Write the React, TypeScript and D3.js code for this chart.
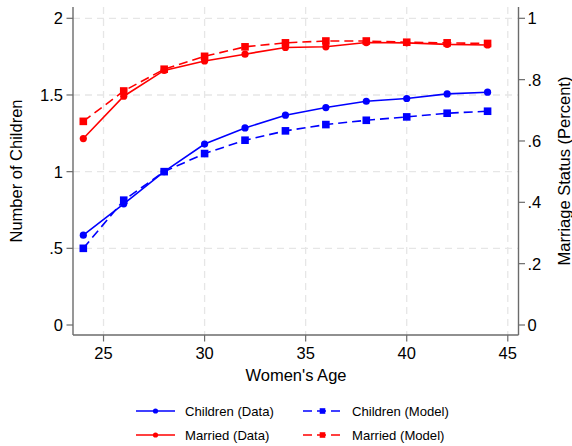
import React from "react";
import * as d3 from "d3";

const ages = [24, 26, 28, 30, 32, 34, 36, 38, 40, 42, 44];
const childrenData = [0.586, 0.79, 1.0, 1.18, 1.285, 1.368, 1.418, 1.459, 1.477, 1.507, 1.518];
const childrenModel = [0.5, 0.814, 1.0, 1.118, 1.205, 1.266, 1.307, 1.335, 1.357, 1.381, 1.394];
const marriedData = [0.608, 0.746, 0.83, 0.861, 0.883, 0.905, 0.907, 0.921, 0.92, 0.915, 0.913];
const marriedModel = [0.664, 0.763, 0.834, 0.876, 0.907, 0.92, 0.926, 0.926, 0.922, 0.92, 0.918];

const xTicks = [25, 30, 35, 40, 45];
const leftTicks = [0, 0.5, 1, 1.5, 2];
const rightTicks = [0, 0.2, 0.4, 0.6, 0.8, 1];
const fmt = (v: number) => (v === 0 ? "0" : String(v).replace(/^0\./, "."));

const W = 572;
const H = 446;
const L = 73, R = 518.5, T = 7, B = 335;
const BLUE = "#0000ff";
const RED = "#ff0000";
const AXIS = "#6b6b6b";
const GRID = "#e6e6e6";
const FONT = "'Liberation Sans', Arial, Helvetica, sans-serif";

export default function App() {
  const x = d3.scaleLinear().domain([23.49, 45.53]).range([L, R]);
  const yL = d3.scaleLinear().domain([0, 2]).range([325, 18.3]);
  const yR = d3.scaleLinear().domain([0, 1]).range([325, 18.3]);

  const lineL = d3.line<number>().x((_, i) => x(ages[i])).y((d) => yL(d));
  const lineR = d3.line<number>().x((_, i) => x(ages[i])).y((d) => yR(d));

  const series = [
    { vals: childrenData, line: lineL, y: yL, color: BLUE, dash: undefined, marker: "circle" },
    { vals: childrenModel, line: lineL, y: yL, color: BLUE, dash: "9,5", marker: "square" },
    { vals: marriedData, line: lineR, y: yR, color: RED, dash: undefined, marker: "circle" },
    { vals: marriedModel, line: lineR, y: yR, color: RED, dash: "9,5", marker: "square" },
  ];

  const legend = [
    { label: "Children (Data)", color: BLUE, dash: undefined, marker: "circle", lx: 136, ly: 411 },
    { label: "Children (Model)", color: BLUE, dash: "9,5", marker: "square", lx: 303, ly: 411 },
    { label: "Married (Data)", color: RED, dash: undefined, marker: "circle", lx: 136, ly: 435 },
    { label: "Married (Model)", color: RED, dash: "9,5", marker: "square", lx: 303, ly: 435 },
  ];

  return (
    <svg width={W} height={H} style={{ position: "absolute", left: 0, top: 0, background: "#fff" }} fontFamily={FONT}>
      <rect x={0} y={0} width={W} height={H} fill="#fff" />
      {/* grid */}
      {xTicks.map((t) => (
        <line key={"gx" + t} x1={x(t)} x2={x(t)} y1={T} y2={B} stroke={GRID} strokeWidth={1.3} strokeDasharray="7,5" />
      ))}
      {leftTicks.filter((t) => t > 0).map((t) => (
        <line key={"gy" + t} x1={L} x2={R} y1={yL(t)} y2={yL(t)} stroke={GRID} strokeWidth={1.3} strokeDasharray="7,5" />
      ))}
      {/* axes */}
      <line x1={L} x2={L} y1={T} y2={B} stroke={AXIS} strokeWidth={1.4} />
      <line x1={R} x2={R} y1={T} y2={B} stroke={AXIS} strokeWidth={1.4} />
      <line x1={L} x2={R} y1={B} y2={B} stroke={AXIS} strokeWidth={1.4} />
      {leftTicks.map((t) => (
        <g key={"lt" + t}>
          <line x1={L - 6.5} x2={L} y1={yL(t)} y2={yL(t)} stroke={AXIS} strokeWidth={1.2} />
          <text x={L - 10} y={yL(t)} dy="0.36em" textAnchor="end" fontSize={16.5} fill="#000">{fmt(t)}</text>
        </g>
      ))}
      {rightTicks.map((t) => (
        <g key={"rt" + t}>
          <line x1={R} x2={R + 6.5} y1={yR(t)} y2={yR(t)} stroke={AXIS} strokeWidth={1.2} />
          <text x={R + 9} y={yR(t)} dy="0.36em" textAnchor="start" fontSize={16.5} fill="#000">{fmt(t)}</text>
        </g>
      ))}
      {xTicks.map((t) => (
        <g key={"xt" + t}>
          <line x1={x(t)} x2={x(t)} y1={B} y2={B + 6.5} stroke={AXIS} strokeWidth={1.2} />
          <text x={x(t)} y={359} textAnchor="middle" fontSize={16.5} fill="#000">{t}</text>
        </g>
      ))}
      <text x={296} y={381} textAnchor="middle" fontSize={16.5}>Women's Age</text>
      <text transform={`translate(22,${(T + B) / 2}) rotate(-90)`} textAnchor="middle" fontSize={16.5}>Number of Children</text>
      <text transform={`translate(558,${(T + B) / 2}) rotate(-90)`} textAnchor="middle" fontSize={16.5} dy="0.7em">Marriage Status (Percent)</text>
      {/* series */}
      {series.map((s, si) => (
        <g key={"s" + si}>
          <path d={s.line(s.vals) || ""} fill="none" stroke={s.color} strokeWidth={1.6} strokeDasharray={s.dash} />
          {s.vals.map((v, i) =>
            s.marker === "circle" ? (
              <circle key={i} cx={x(ages[i])} cy={s.y(v)} r={3.6} fill={s.color} />
            ) : (
              <rect key={i} x={x(ages[i]) - 3.8} y={s.y(v) - 3.8} width={7.6} height={7.6} fill={s.color} />
            )
          )}
        </g>
      ))}
      {/* legend */}
      {legend.map((l) => (
        <g key={l.label}>
          <line x1={l.lx} x2={l.lx + 39} y1={l.ly} y2={l.ly} stroke={l.color} strokeWidth={1.5} strokeDasharray={l.dash} />
          {l.marker === "circle" ? (
            <circle cx={l.lx + 19.5} cy={l.ly} r={2.6} fill={l.color} />
          ) : (
            <rect x={l.lx + 19.5 - 2.8} y={l.ly - 2.8} width={5.6} height={5.6} fill={l.color} />
          )}
          <text x={l.lx + 49} y={l.ly} dy="0.36em" fontSize={13.1}>{l.label}</text>
        </g>
      ))}
    </svg>
  );
}
